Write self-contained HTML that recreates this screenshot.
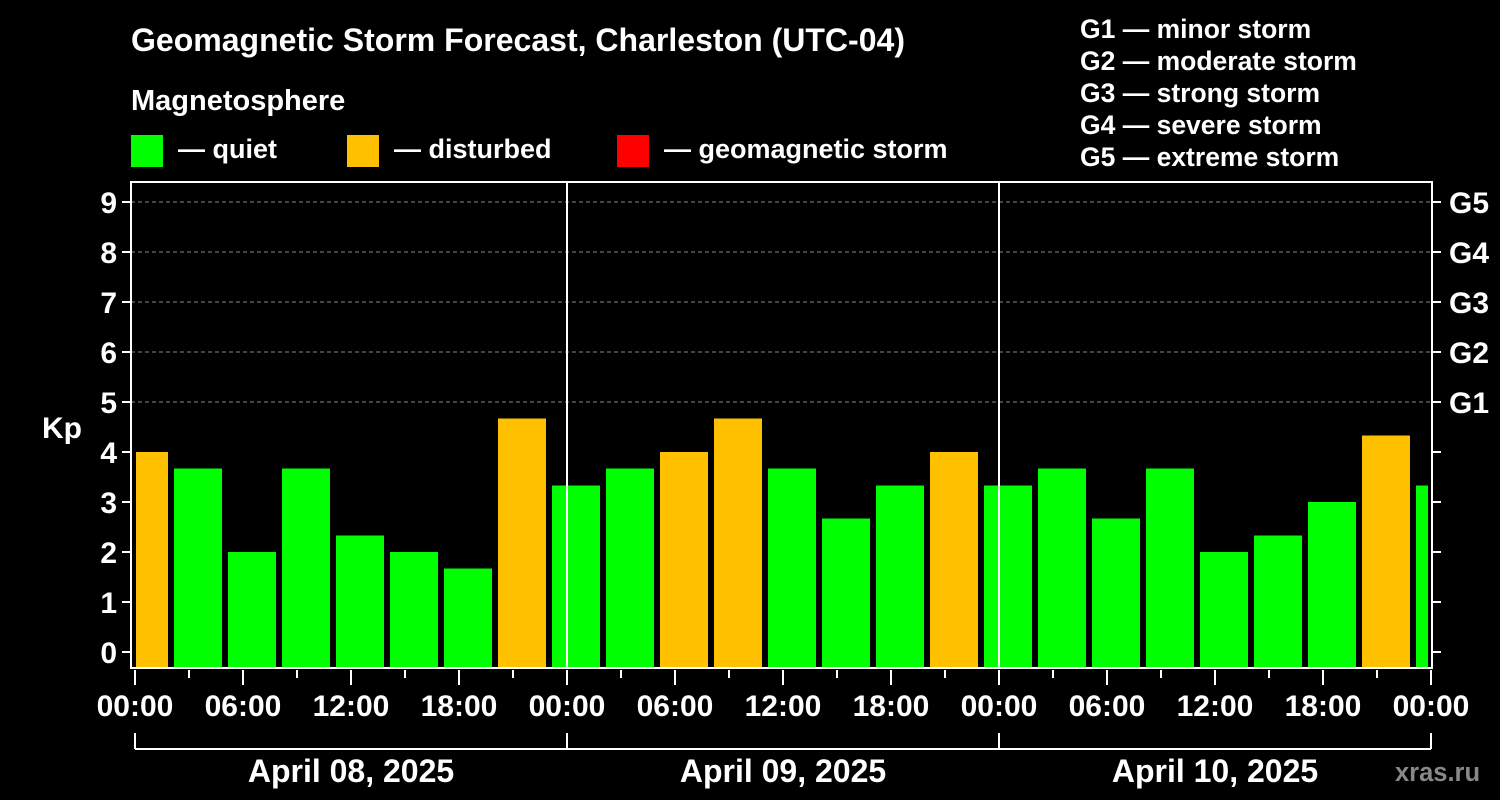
<!DOCTYPE html>
<html><head><meta charset="utf-8"><style>
html,body{margin:0;padding:0;background:#000;width:1500px;height:800px;overflow:hidden}
svg text{font-family:"Liberation Sans",Arial,sans-serif;font-weight:bold;fill:#fff}
</style></head><body>
<svg id="chart" width="1500" height="800" xmlns="http://www.w3.org/2000/svg">
<text x="131" y="51" font-size="32" textLength="774" lengthAdjust="spacingAndGlyphs">Geomagnetic Storm Forecast, Charleston (UTC-04)</text>
<text x="131" y="110" font-size="29">Magnetosphere</text>
<rect x="131" y="135" width="32" height="32" fill="#00ff00"/>
<text x="178" y="158" font-size="27">— quiet</text>
<rect x="347" y="135" width="32" height="32" fill="#ffc000"/>
<text x="394" y="158" font-size="27">— disturbed</text>
<rect x="617" y="135" width="32" height="32" fill="#ff0000"/>
<text x="664" y="158" font-size="27">— geomagnetic storm</text>
<g font-size="26.5">
<text x="1080" y="38">G1 — minor storm</text>
<text x="1080" y="70">G2 — moderate storm</text>
<text x="1080" y="102">G3 — strong storm</text>
<text x="1080" y="134">G4 — severe storm</text>
<text x="1080" y="166">G5 — extreme storm</text>
</g>
<text x="42" y="438" font-size="30">Kp</text>
<g id="plot"></g>
<text x="1395" y="781" font-size="25.5" style="fill:#888">xras.ru</text>
</svg>
<script>
const kpValues=[4.0,3.67,2.0,3.67,2.33,2.0,1.67,4.67,3.33,3.67,4.0,4.67,3.67,2.67,3.33,4.0,3.33,3.67,2.67,3.67,2.0,2.33,3.0,4.33,3.33];
const dayLabels=["April 08, 2025","April 09, 2025","April 10, 2025"];
const hourLabels=["00:00","06:00","12:00","18:00"];
const gLabels=["G1","G2","G3","G4","G5"];
const NS="http://www.w3.org/2000/svg";
const L=131,R=1432,T=182,B=668,X0=135,PXH=18;
const xS=h=>X0+h*PXH;
const yS=v=>652-v*50;
const g=document.getElementById('plot');
function mk(t,a,txt){const e=document.createElementNS(NS,t);for(const k in a)e.setAttribute(k,a[k]);if(txt!==undefined)e.textContent=txt;g.appendChild(e);return e;}
const cp=document.createElementNS(NS,'clipPath');cp.setAttribute('id','clip');
const cr=document.createElementNS(NS,'rect');cr.setAttribute('x',136);cr.setAttribute('y',T);cr.setAttribute('width',1292);cr.setAttribute('height',B-T);cp.appendChild(cr);g.appendChild(cp);
for(let v=5;v<=9;v++){const e=mk('line',{x1:L,x2:R,y1:yS(v),y2:yS(v),stroke:'#888','stroke-dasharray':'4,3','stroke-width':1});

}
kpValues.forEach((v,i)=>{const c=xS(i*3+0.5);
const e=mk('rect',{x:c-24,y:yS(v),width:48,height:B-1-yS(v),fill:v>=4?'#ffc000':'#00ff00','clip-path':'url(#clip)'});

});
const fr=mk('rect',{x:L,y:T,width:R-L,height:B-T,fill:'none',stroke:'#fff','stroke-width':2});


for(let d=1;d<3;d++){const e=mk('line',{x1:xS(d*24),x2:xS(d*24),y1:T,y2:B,stroke:'#fff','stroke-width':2});

}
for(let v=0;v<=9;v++){mk('line',{x1:L-9,x2:L,y1:yS(v),y2:yS(v),stroke:'#fff','stroke-width':2});
mk('line',{x1:R,x2:R+9,y1:yS(v),y2:yS(v),stroke:'#fff','stroke-width':2});
const t=mk('text',{x:L-14,y:yS(v)+11,'font-size':30,'text-anchor':'end'},String(v));

}
gLabels.forEach((s,i)=>{const t=mk('text',{x:R+17,y:yS(5+i)+11,'font-size':30},s);

});
for(let h=0;h<=72;h+=3){const long=h%6===0;mk('line',{x1:xS(h),x2:xS(h),y1:B+2,y2:B+(long?17:10),stroke:'#fff','stroke-width':2});}
for(let h=0;h<=72;h+=6){const t=mk('text',{x:xS(h),y:716,'font-size':30,'text-anchor':'middle'},hourLabels[(h/6)%4]);

}
mk('line',{x1:xS(0),x2:xS(72),y1:749,y2:749,stroke:'#fff','stroke-width':2});
for(let d=0;d<=3;d++)mk('line',{x1:xS(d*24),x2:xS(d*24),y1:733,y2:749,stroke:'#fff','stroke-width':2});
dayLabels.forEach((s,i)=>{const t=mk('text',{x:xS(i*24+12),y:782,'font-size':32,'text-anchor':'middle'},s);

});
</script>
</body></html>
